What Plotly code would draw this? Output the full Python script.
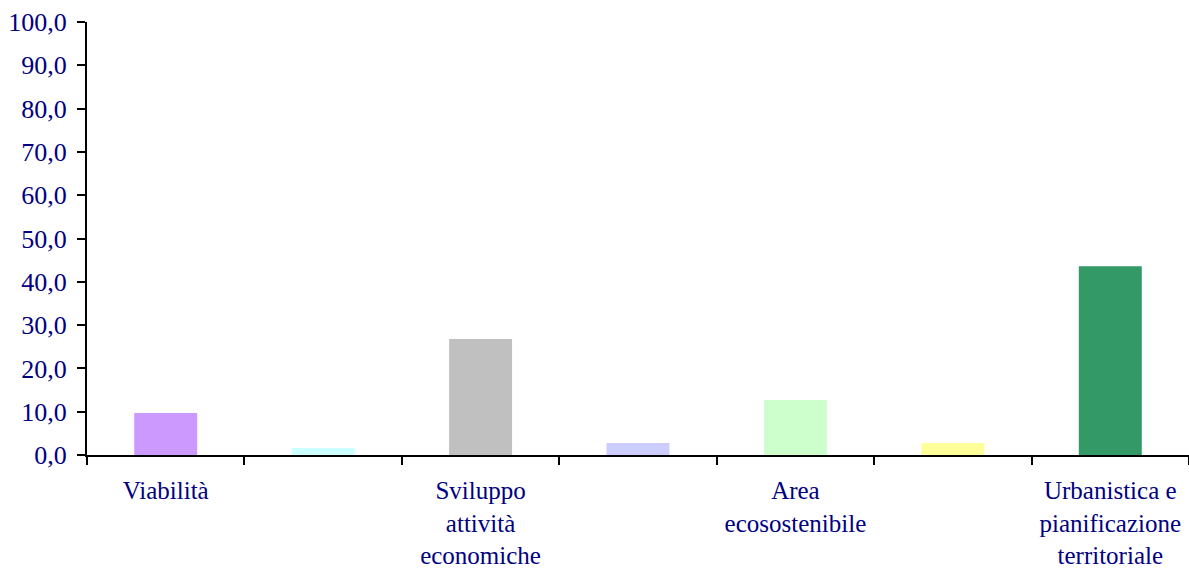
import plotly.graph_objects as go

categories = ["Viabilità", " ", "Sviluppo<br>attività<br>economiche", "  ",
              "Area<br>ecosostenibile", "   ", "Urbanistica e<br>pianificazione<br>territoriale"]
values = [9.7, 1.6, 26.8, 2.8, 12.7, 2.8, 43.6]
colors = ["#CC99FF", "#CCFFFF", "#C0C0C0", "#CCCCFF", "#CCFFCC", "#FFFF99", "#339966"]
y_ticks = [0, 10, 20, 30, 40, 50, 60, 70, 80, 90, 100]

navy = "#000080"
font = "Liberation Serif, Times New Roman, serif"

fig = go.Figure(go.Bar(x=categories, y=values, marker=dict(color=colors, line=dict(width=0)),
                       width=0.4, hoverinfo="skip"))

fig.update_layout(
    width=1189, height=571,
    margin=dict(l=87, r=0, t=22, b=116),
    paper_bgcolor="white", plot_bgcolor="white",
    separators=",.",
    showlegend=False,
    font=dict(family=font, size=26, color=navy),
)
fig.update_xaxes(
    type="category", showline=True, linecolor="black", linewidth=2,
    ticks="outside", tickson="boundaries", ticklen=8, tickcolor="black", tickwidth=2,
    showgrid=False, ticklabelstandoff=12, automargin=False,
    tickfont=dict(family=font, size=25, color=navy),
)
fig.update_yaxes(
    range=[0, 100], tickvals=y_ticks, tickformat=".1f",
    showline=True, linecolor="black", linewidth=2,
    ticks="outside", ticklen=8, tickcolor="black", tickwidth=2,
    showgrid=False, zeroline=False, ticklabelstandoff=5, automargin=False,
    tickfont=dict(family=font, size=26, color=navy),
)

fig.write_html("out.html")
